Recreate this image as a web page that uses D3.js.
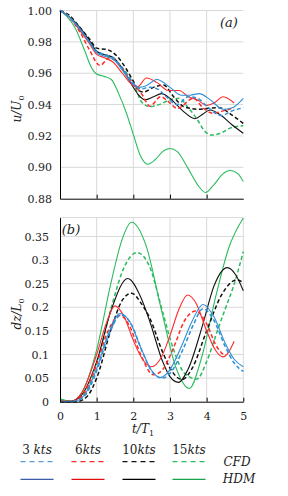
<!DOCTYPE html>
<html lang="en">
<head>
<meta charset="utf-8">
<title>u/U0 and dz/L0</title>
<script src="https://cdn.jsdelivr.net/npm/d3@7"></script>
<style>
  body { margin: 0; background: #fff; }
  svg text { font-family: "DejaVu Serif", "Liberation Serif", serif; fill: #222; }
  .grid line { stroke: #d9d9d9; stroke-width: 1; }
  .axis path, .axis line { stroke: #000; }
</style>
</head>
<body>
<div id="chart"></div>
<script>
// speeds shown in legend
var speeds = ["3", "6", "10", "15"];
var uTicks = [0.88, 0.90, 0.92, 0.94, 0.96, 0.98, 1.00];
var zTicks = [0, 0.05, 0.1, 0.15, 0.2, 0.25, 0.3, 0.35];
var tTicks = [0, 1, 2, 3, 4, 5];

// (a) u/U0 against t/T1
var uHdm3 = [[0,1],[0.25,0.996],[0.55,0.988],[0.8,0.98],[1.0,0.973],[1.2,0.971],[1.45,0.969],[1.7,0.962],[1.95,0.954],[2.15,0.951],[2.35,0.952],[2.64,0.956],[3.0,0.951],[3.3,0.946],[3.55,0.946],[3.8,0.947],[4.1,0.943],[4.45,0.937],[4.7,0.938],[5.0,0.944]];
var uCfd3 = [[0,1],[0.25,0.996],[0.55,0.988],[0.8,0.98],[1.0,0.974],[1.2,0.972],[1.45,0.97],[1.7,0.963],[1.95,0.955],[2.2,0.95],[2.45,0.951],[2.65,0.95],[2.9,0.945],[3.2,0.94],[3.5,0.945],[3.75,0.944],[4.05,0.938],[4.4,0.933],[4.7,0.936],[5.0,0.938]];
var uHdm6 = [[0,1],[0.25,0.996],[0.55,0.987],[0.8,0.979],[1.0,0.972],[1.2,0.97],[1.45,0.967],[1.7,0.96],[1.95,0.953],[2.1,0.951],[2.36,0.957],[2.65,0.954],[2.95,0.949],[3.25,0.949],[3.5,0.945],[3.75,0.943],[4.0,0.9395],[4.2,0.941],[4.45,0.945],[4.75,0.941]];
var uCfd6 = [[0,1],[0.25,0.996],[0.55,0.986],[0.8,0.975],[1.09,0.965],[1.36,0.97],[1.6,0.966],[1.85,0.958],[2.05,0.952],[2.25,0.946],[2.45,0.939],[2.75,0.945],[2.95,0.942],[3.2,0.9376],[3.64,0.944],[3.9,0.938],[4.18,0.9345],[4.45,0.936],[4.75,0.938]];
var uHdm10 = [[0,1],[0.25,0.996],[0.55,0.989],[0.8,0.981],[1.0,0.974],[1.2,0.972],[1.45,0.97],[1.7,0.963],[1.95,0.953],[2.15,0.946],[2.32,0.943],[2.55,0.945],[2.77,0.947],[3.0,0.944],[3.35,0.936],[3.68,0.931],[3.9,0.934],[4.09,0.9366],[4.4,0.933],[4.7,0.927],[5.0,0.9217]];
var uCfd10 = [[0,1],[0.25,0.997],[0.55,0.989],[0.8,0.982],[1.0,0.976],[1.3,0.975],[1.55,0.971],[1.8,0.963],[2.0,0.955],[2.15,0.949],[2.27,0.948],[2.55,0.951],[2.82,0.9525],[3.1,0.945],[3.35,0.939],[3.55,0.9376],[3.8,0.937],[4.05,0.9376],[4.35,0.938],[4.65,0.934],[5.0,0.928]];
var uHdm15 = [[0,1],[0.2,0.996],[0.41,0.989],[0.68,0.974],[0.85,0.964],[1.0,0.9595],[1.2,0.958],[1.4,0.956],[1.6,0.947],[1.82,0.934],[2.0,0.921],[2.2,0.907],[2.39,0.902],[2.6,0.905],[2.8,0.91],[3.0,0.912],[3.2,0.91],[3.5,0.899],[3.75,0.889],[3.97,0.884],[4.2,0.889],[4.45,0.896],[4.64,0.898],[4.85,0.896],[5.0,0.891]];
var uCfd15 = [[0,1],[0.25,0.996],[0.55,0.988],[0.8,0.98],[1.0,0.974],[1.3,0.971],[1.6,0.966],[1.85,0.959],[2.05,0.951],[2.23,0.9415],[2.45,0.9387],[2.7,0.94],[3.0,0.943],[3.25,0.944],[3.5,0.938],[3.73,0.931],[3.95,0.923],[4.14,0.9206],[4.4,0.922],[4.64,0.925],[5.0,0.9265]];

// (b) dz/L0 against t/T1
var zHdm3 = [[0,0],[0.4,0.001],[0.7,0.018],[1.0,0.07],[1.3,0.14],[1.64,0.187],[1.9,0.17],[2.2,0.115],[2.5,0.066],[2.73,0.051],[3.0,0.068],[3.3,0.115],[3.6,0.17],[3.9,0.206],[4.2,0.18],[4.5,0.125],[4.75,0.09],[5.0,0.074]];
var zCfd3 = [[0,0],[0.4,0.001],[0.7,0.015],[1.0,0.065],[1.3,0.135],[1.67,0.184],[1.95,0.163],[2.25,0.105],[2.55,0.06],[2.8,0.05],[3.05,0.065],[3.35,0.11],[3.65,0.165],[3.9,0.197],[4.2,0.172],[4.5,0.118],[4.75,0.082],[5.0,0.064]];
var zHdm6 = [[0,0.002],[0.3,0.001],[0.6,0.02],[1.0,0.1],[1.25,0.163],[1.5,0.203],[1.75,0.18],[2.0,0.13],[2.25,0.09],[2.5,0.074],[2.75,0.092],[3.0,0.14],[3.25,0.197],[3.48,0.226],[3.7,0.21],[4.0,0.15],[4.25,0.108],[4.45,0.095],[4.6,0.105],[4.75,0.128]];
var zCfd6 = [[0,0],[0.35,0.001],[0.65,0.018],[1.0,0.08],[1.3,0.148],[1.64,0.183],[1.9,0.16],[2.2,0.1],[2.55,0.057],[2.8,0.068],[3.1,0.115],[3.4,0.172],[3.7,0.192],[4.0,0.165],[4.25,0.12],[4.45,0.1]];
var zHdm10 = [[0,0],[0.3,0.001],[0.6,0.015],[1.0,0.085],[1.4,0.195],[1.85,0.261],[2.2,0.222],[2.45,0.17],[2.8,0.085],[3.0,0.053],[3.23,0.041],[3.5,0.07],[3.9,0.165],[4.2,0.245],[4.56,0.284],[4.8,0.268],[5.0,0.235]];
var zCfd10 = [[0,0],[0.45,0],[0.75,0.012],[1.0,0.05],[1.4,0.155],[1.7,0.215],[1.95,0.23],[2.2,0.21],[2.45,0.177],[2.8,0.105],[3.05,0.065],[3.33,0.047],[3.6,0.07],[4.0,0.15],[4.4,0.225],[4.82,0.258],[5.0,0.252]];
var zHdm15 = [[0,0.006],[0.3,0.001],[0.6,0.02],[1.0,0.11],[1.4,0.255],[1.7,0.345],[1.95,0.38],[2.35,0.33],[2.75,0.2],[3.15,0.075],[3.53,0.028],[3.85,0.09],[4.27,0.23],[4.6,0.325],[5.0,0.389]];
var zCfd15 = [[0,0.003],[0.4,0.001],[0.7,0.02],[1.0,0.08],[1.4,0.2],[1.75,0.285],[2.1,0.316],[2.45,0.285],[2.8,0.19],[3.1,0.11],[3.4,0.06],[3.73,0.048],[4.0,0.085],[4.27,0.145],[4.5,0.195],[4.73,0.244],[5.0,0.318]];

var colors = ["#2f8fd8", "#ff2a2a", "#111", "#2bbb5e"];
var legendSolid = ["#3a5ea8", "#e01010", "#000", "#16a34e"];

var width = 288, height = 496;

var svg = d3.select("#chart")
  .append("svg")
    .attr("width", width)
    .attr("height", height);

var x = d3.scaleLinear().domain([0, 5]).range([60, 243.3]);
var ya = d3.scaleLinear().domain([0.88, 1.0]).range([198.7, 10.5]);
var yb = d3.scaleLinear().domain([0, 0.39]).range([401.7, 217.6]);

function panel(y, yTicks, fmt, pad, gridX, series, topLine) {
  var g = svg.append("g");
  // grid
  var grid = g.append("g").attr("class", "grid");
  grid.selectAll("line.h")
    .data(yTicks.slice(1))
    .enter().append("line")
      .attr("x1", x(0)).attr("x2", x(5))
      .attr("y1", function(d) { return y(d); })
      .attr("y2", function(d) { return y(d); });
  if (topLine) {
    grid.append("line")
      .attr("x1", x(0)).attr("x2", x(5))
      .attr("y1", y.range()[1]).attr("y2", y.range()[1]);
  }
  grid.selectAll("line.v")
    .data(gridX)
    .enter().append("line")
      .attr("x1", function(d) { return x(d); })
      .attr("x2", function(d) { return x(d); })
      .attr("y1", y.range()[0]).attr("y2", y.range()[1]);

  // curves
  var line = d3.line()
    .x(function(d) { return x(d[0]); })
    .y(function(d) { return y(d[1]); })
    .curve(d3.curveMonotoneX);
  series.forEach(function(s) {
    g.append("path")
      .attr("d", line(s.data))
      .attr("fill", "none")
      .attr("stroke", colors[s.k])
      .attr("stroke-width", s.dash ? 1.5 : 1.1)
      .attr("stroke-dasharray", s.dash ? "4,2.5" : null);
  });

  // axes
  g.append("g")
    .attr("class", "axis")
    .attr("transform", "translate(" + x(0) + ",0)")
    .call(d3.axisLeft(y).tickValues(yTicks).tickFormat(fmt).tickSize(0).tickPadding(pad))
    .selectAll("text")
      .attr("font-family", "DejaVu Serif")
      .attr("font-size", 11)
      .attr("fill", "#222");
  return g;
}

var ga = panel(ya, uTicks, d3.format(".2f"), 8, [1, 2, 3, 4], [
  {data: uHdm15, k: 3}, {data: uCfd15, k: 3, dash: true},
  {data: uHdm10, k: 2}, {data: uCfd10, k: 2, dash: true},
  {data: uHdm6, k: 1}, {data: uCfd6, k: 1, dash: true},
  {data: uHdm3, k: 0}, {data: uCfd3, k: 0, dash: true}
], false);
ga.append("g")
  .attr("class", "axis")
  .attr("transform", "translate(0," + ya(0.88) + ")")
  .call(d3.axisBottom(x).tickValues([1, 2, 3, 4]).tickSizeInner(-4).tickSizeOuter(0).tickFormat(""));

var gb = panel(yb, zTicks, function(d) { return d === 0 ? "0" : String(d); }, 11, [1, 2, 3, 4, 5], [
  {data: zHdm15, k: 3}, {data: zCfd15, k: 3, dash: true},
  {data: zHdm10, k: 2}, {data: zCfd10, k: 2, dash: true},
  {data: zHdm6, k: 1}, {data: zCfd6, k: 1, dash: true},
  {data: zHdm3, k: 0}, {data: zCfd3, k: 0, dash: true}
], true);
gb.append("g")
  .attr("class", "axis")
  .attr("transform", "translate(0," + yb(0) + ")")
  .call(d3.axisBottom(x).tickValues(tTicks).tickFormat(d3.format("d")).tickSizeInner(-4).tickSizeOuter(0).tickPadding(11))
  .selectAll("text")
    .attr("font-family", "DejaVu Serif")
    .attr("font-size", 11)
    .attr("fill", "#222");

// panel tags
svg.append("text").attr("x", 229).attr("y", 27).attr("text-anchor", "middle")
  .attr("font-size", 13).attr("font-style", "italic").text("(a)");
svg.append("text").attr("x", 71).attr("y", 234).attr("text-anchor", "middle")
  .attr("font-size", 13).attr("font-style", "italic").text("(b)");

// axis titles
function yTitle(cx, cy, a, b) {
  var t = svg.append("text")
    .attr("transform", "translate(" + cx + "," + cy + ") rotate(-90)")
    .attr("text-anchor", "middle")
    .attr("font-size", 12);
  t.append("tspan").attr("font-style", "italic").text(a);
  t.append("tspan").attr("font-style", "italic").text(b);
  t.append("tspan").attr("font-size", 8).attr("dy", 3).text("0");
}
yTitle(21, 109, "u/", "U");
yTitle(21, 314, "dz/", "L");

var xt = svg.append("text").attr("x", 143).attr("y", 433).attr("text-anchor", "middle").attr("font-size", 12);
xt.append("tspan").attr("font-style", "italic").text("t/T");
xt.append("tspan").attr("font-size", 8).attr("dy", 3).text("1");

// legend
var lx = [37, 88, 139, 189];
speeds.forEach(function(s, i) {
  var t = svg.append("text").attr("x", lx[i]).attr("y", 454).attr("text-anchor", "middle").attr("font-size", 12);
  t.append("tspan").text(s + (i === 0 ? " " : ""));
  t.append("tspan").attr("font-style", "italic").text("kts");
  svg.append("line")
    .attr("x1", lx[i] - 16.5).attr("x2", lx[i] + 16.5)
    .attr("y1", 461.7).attr("y2", 461.7)
    .attr("stroke", i === 0 ? "#5b9bd5" : colors[i])
    .attr("stroke-width", 1.2)
    .attr("stroke-dasharray", "5,4");
  svg.append("line")
    .attr("x1", lx[i] - 16.5).attr("x2", lx[i] + 16.5)
    .attr("y1", 479.3).attr("y2", 479.3)
    .attr("stroke", legendSolid[i])
    .attr("stroke-width", 1.2);
});
svg.append("text").attr("x", 237).attr("y", 466).attr("text-anchor", "middle")
  .attr("font-size", 12).attr("font-style", "italic").text("CFD");
svg.append("text").attr("x", 239).attr("y", 483).attr("text-anchor", "middle")
  .attr("font-size", 12).attr("font-style", "italic").text("HDM");
</script>
</body>
</html>
